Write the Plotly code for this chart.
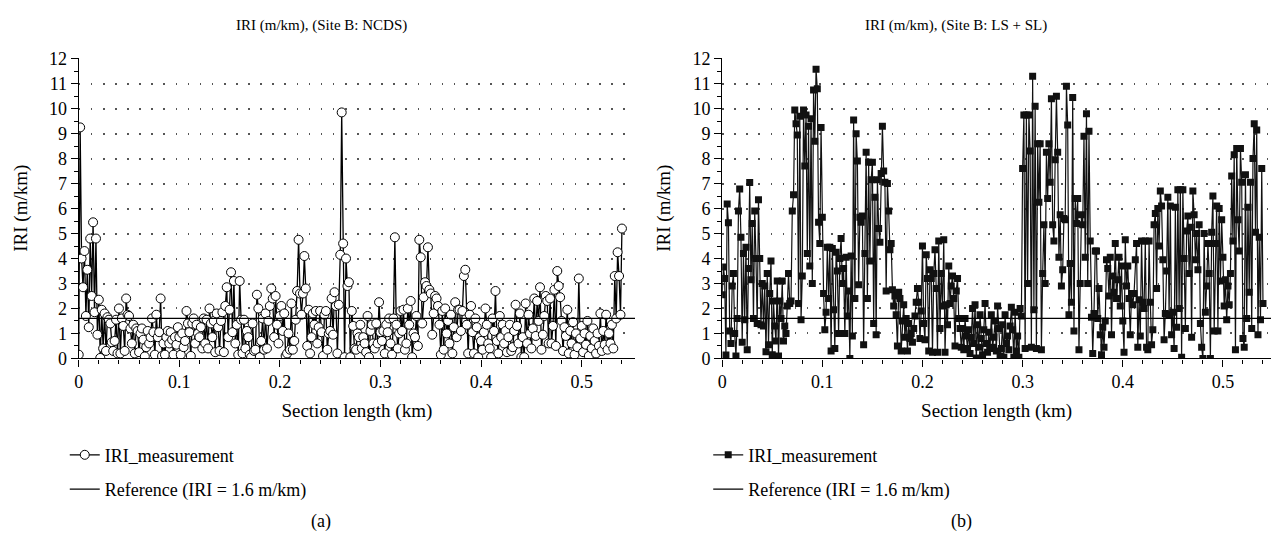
import numpy as np
import plotly.graph_objects as go

# ---------------- data ----------------
# Site B: NCDS  -- IRI (m/km), 7 readings per 10 m of section, from 0 to 0.54 km
LEFT_IRI = [
    0.15, 9.25, 4.0, 2.85, 4.3, 1.7, 3.55,
    1.25, 4.8, 2.5, 5.45, 1.85, 4.8, 0.95,
    2.35, 0.02, 1.95, 0.4, 1.8, 0.3, 1.65,
    1.55, 1.4, 0.65, 0.3, 0.7, 1.55, 0.2,
    2.0, 0.2, 1.6, 1.3, 0.3, 2.4, 1.75,
    1.7, 1.2, 0.6, 1.35, 0.2, 1.2, 1.1,
    0.25, 1.0, 1.2, 0.75, 0.08, 0.45, 1.1,
    0.6, 0.85, 1.6, 1.05, 0.15, 1.75, 0.85,
    1.05, 2.4, 0.1, 0.6, 0.15, 0.85, 1.1,
    0.6, 1.05, 0.75, 0.15, 0.85, 0.55, 1.25,
    0.85, 0.15, 1.0, 0.45, 0.7, 1.9, 1.4,
    1.05, 0.1, 1.4, 1.6, 0.6, 1.35, 1.0,
    0.85, 1.25, 0.4, 1.6, 0.6, 1.55, 0.4,
    2.0, 1.4, 0.85, 1.5, 0.25, 1.8, 1.25,
    0.3, 1.5, 1.85, 0.25, 2.1, 2.85, 0.85,
    1.95, 3.45, 1.05, 3.1, 0.6, 1.35, 0.15,
    3.1, 1.55, 0.2, 1.55, 0.4, 1.1, 0.85,
    0.15, 0.05, 1.4, 0.3, 0.35, 2.55, 2.0,
    0.05, 0.7, 1.6, 0.35, 1.8, 0.4, 1.5,
    2.1, 2.8, 2.4, 0.85, 2.5, 1.35, 0.6,
    1.7, 2.1, 1.1, 1.8, 0.1, 0.2, 1.0,
    0.35, 2.2, 0.35, 0.7, 1.55, 2.7, 4.75,
    2.6, 1.75, 2.6, 4.1, 2.8, 0.5, 1.95,
    0.2, 0.85, 1.8, 1.35, 1.9, 0.6, 1.25,
    1.9, 1.05, 0.1, 1.75, 1.9, 0.35, 1.0,
    1.1, 2.4, 0.95, 2.65, 2.1, 0.2, 2.15,
    4.15, 9.85, 4.6, 0.05, 4.0, 2.9, 3.05,
    0.05, 1.9, 1.3, 0.4, 0.35, 1.0, 0.85,
    1.35, 0.4, 0.85, 0.6, 0.25, 1.7, 0.05,
    1.1, 1.35, 0.6, 0.4, 1.4, 0.6, 2.25,
    1.05, 0.7, 1.1, 0.2, 1.35, 1.05, 1.6,
    0.6, 0.15, 1.6, 4.85, 1.35, 0.4, 1.0,
    1.9, 1.1, 1.95, 0.35, 0.6, 2.0, 1.35,
    2.3, 0.05, 1.0, 0.85, 1.7, 0.5, 4.75,
    4.05, 1.4, 2.45, 3.05, 2.9, 4.45, 2.75,
    2.6, 0.95, 1.8, 2.5, 2.4, 2.1, 1.35,
    0.15, 1.9, 0.35, 2.0, 1.0, 1.5, 0.6,
    1.75, 0.2, 1.25, 2.25, 0.85, 1.95, 1.95,
    1.1, 1.9, 3.3, 3.55, 1.35, 0.2, 1.75,
    2.1, 1.05, 0.2, 1.6, 1.25, 0.05, 0.85,
    0.7, 0.35, 1.05, 2.0, 1.35, 0.6, 0.4,
    0.05, 1.6, 1.1, 2.7, 0.7, 0.2, 1.7,
    0.85, 1.35, 0.6, 1.1, 0.25, 0.85, 1.35,
    0.3, 0.45, 1.1, 2.15, 1.3, 0.6, 1.8,
    0.05, 0.85, 0.05, 2.2, 0.6, 1.75, 1.0,
    0.4, 1.2, 2.4, 0.9, 2.3, 1.5, 2.85,
    0.35, 0.95, 1.7, 2.5, 2.3, 0.6, 2.4,
    0.6, 1.3, 2.75, 0.5, 3.5, 2.9, 2.45,
    1.5, 0.3, 1.25, 0.9, 1.95, 0.2, 1.1,
    0.6, 1.45, 0.15, 1.0, 0.45, 3.2, 0.8,
    1.3, 0.25, 1.0, 0.55, 1.5, 0.1, 0.9,
    0.4, 1.2, 0.7, 0.2, 1.0, 0.5, 1.8,
    0.3, 1.1, 0.55, 1.75, 0.35, 1.0, 0.6,
    1.35, 0.4, 3.3, 1.6, 4.25, 3.3, 1.75,
    5.2,
]

# Site B: LS + SL  -- IRI (m/km), 8 readings per 10 m of section, from 0 to 0.54 km
RIGHT_IRI = [
    2.55, 3.66, 3.2, 0.14, 6.18, 5.43, 1.1, 0.6,
    2.9, 3.4, 1.0, 0.1, 1.6, 5.9, 6.78, 4.85,
    0.65, 4.2, 1.55, 4.45, 0.35, 3.6, 7.04, 3.15,
    5.4, 1.6, 5.9, 4.0, 1.4, 6.35, 4.0, 1.35,
    3.0, 1.3, 2.9, 0.27, 3.4, 0.55, 2.6, 3.9,
    0.15, 2.3, 1.3, 0.7, 3.1, 0.1, 2.3, 1.6,
    3.1, 0.7, 1.3, 1.0, 2.1, 3.4, 2.2, 2.3,
    5.9, 6.55, 9.95, 9.4, 8.95, 2.2, 9.7, 1.55,
    3.3, 9.95, 7.7, 9.75, 4.2, 9.3, 3.7, 9.6,
    3.0, 10.75, 8.7, 11.58, 10.8, 5.45, 4.6, 9.25,
    5.65, 2.6, 1.15, 1.85, 4.45, 2.4, 4.45, 0.3,
    4.4, 1.95, 0.4, 4.25, 3.5, 1.0, 4.0, 4.8,
    3.0, 3.6, 1.0, 4.05, 1.7, 2.7, 0.0, 4.1,
    0.9, 9.55, 2.4, 9.0, 7.9, 2.95, 5.65, 5.45,
    5.7, 0.55, 4.2, 8.25, 2.4, 7.85, 3.9, 7.15,
    7.85, 1.4, 6.45, 0.95, 7.15, 5.2, 4.65, 7.4,
    9.3, 7.5, 7.05, 2.7, 7.0, 5.9, 4.35, 4.6,
    2.75, 2.1, 2.5, 1.75, 0.5, 2.65, 2.4, 0.3,
    1.5, 2.15, 0.85, 1.6, 0.3, 1.4, 0.8, 1.0,
    0.65, 1.2, 1.7, 2.25, 2.8, 2.25, 0.8, 1.9,
    4.5, 1.4, 0.75, 4.15, 3.2, 0.3, 3.55, 3.2,
    0.25, 3.4, 4.35, 2.8, 0.25, 4.7, 1.2, 3.4,
    2.1, 4.75, 0.25, 2.15, 1.35, 3.7, 2.2, 2.9,
    3.3, 2.4, 0.5, 2.7, 3.2, 1.6, 1.2, 0.45,
    1.2, 0.35, 1.6, 0.9, 0.4, 1.15, 0.2, 0.85,
    2.0, 0.6, 2.15, 0.02, 1.35, 0.45, 1.75, 0.8,
    0.15, 1.15, 2.2, 0.6, 0.25, 1.05, 0.4, 1.75,
    0.45, 0.85, 1.5, 0.3, 2.1, 1.2, 0.1, 0.4,
    1.35, 0.05, 1.75, 0.6, 0.9, 0.35, 1.3, 2.05,
    1.15, 0.05, 1.85, 0.3, 0.9, 0.05, 2.0, 1.7,
    7.6, 9.75, 0.4, 9.75, 3.0, 9.75, 8.3, 0.45,
    11.3, 1.95, 10.1, 0.4, 8.6, 6.25, 8.6, 0.35,
    3.4, 5.35, 3.0, 8.25, 6.4, 8.6, 7.05, 10.4,
    5.35, 4.7, 7.95, 10.5, 8.25, 4.05, 5.75, 2.9,
    3.55, 5.6, 5.55, 10.9, 9.35, 1.75, 3.8, 2.25,
    10.45, 1.1, 6.4, 5.4, 6.4, 0.35, 3.0, 5.75,
    5.35, 8.9, 4.05, 9.8, 3.0, 9.1, 4.7, 1.65,
    0.2, 1.8, 4.3, 4.3, 1.6, 2.8, 0.95, 0.15,
    1.25, 0.45, 1.5, 3.95, 3.6, 2.5, 4.05, 0.95,
    3.3, 2.65, 4.6, 2.4, 3.15, 4.05, 2.1, 3.7,
    1.5, 0.25, 4.75, 2.9, 3.7, 2.4, 0.95, 2.6,
    2.15, 2.6, 3.95, 4.6, 0.45, 2.35, 0.9, 4.7,
    2.25, 2.0, 4.7, 0.45, 0.35, 4.7, 2.25, 0.55,
    1.15, 5.35, 5.8, 2.8, 6.0, 4.5, 6.7, 6.1,
    3.95, 0.75, 1.8, 3.5, 6.45, 1.75, 6.1, 0.95,
    1.85, 0.4, 6.05, 1.25, 6.75, 2.0, 6.75, 0.05,
    6.75, 4.0, 1.2, 5.1, 5.7, 3.4, 5.25, 0.85,
    6.7, 5.75, 3.95, 5.0, 3.55, 5.35, 1.4, 0.45,
    0.0, 5.0, 1.85, 2.9, 4.6, 3.4, 0.0, 5.05,
    6.5, 1.1, 4.6, 6.1, 1.1, 6.0, 3.1, 5.55,
    4.05, 2.1, 3.15, 1.55, 2.9, 2.15, 3.4, 7.3,
    4.7, 8.15, 0.35, 8.4, 5.55, 4.3, 8.4, 7.05,
    0.8, 0.45, 7.35, 1.6, 6.05, 2.65, 7.05, 1.2,
    8.0, 9.4, 5.05, 9.15, 0.95, 4.85, 1.55, 7.6,
    2.2,
]

SECTION_END_KM = 0.54
REFERENCE_IRI = 1.6
X_TICKS = [0, 0.1, 0.2, 0.3, 0.4, 0.5]
Y_TICKS = list(range(0, 13))
TITLES = ["IRI (m/km), (Site B: NCDS)", "IRI (m/km), (Site B: LS + SL)"]
CAPTIONS = ["(a)", "(b)"]

left_x = np.linspace(0, SECTION_END_KM, len(LEFT_IRI))
right_x = np.linspace(0, SECTION_END_KM, len(RIGHT_IRI))

# ---------------- figure ----------------
W, H = 1271, 547
FONT = "Liberation Serif"
LEFT_RANGE = [0, 0.553]
RIGHT_RANGE = [0, 0.548]


def fx(px):
    return px / W


def fy(py):
    return 1 - py / H


fig = go.Figure()

fig.add_trace(go.Scatter(
    x=left_x, y=LEFT_IRI, mode="lines+markers", name="IRI_measurement",
    line=dict(color="black", width=1.3),
    marker=dict(symbol="circle", size=9, color="white", line=dict(color="black", width=1)),
    xaxis="x", yaxis="y", legend="legend", legendgroup="a1",
))
fig.add_trace(go.Scatter(
    x=LEFT_RANGE, y=[REFERENCE_IRI, REFERENCE_IRI], mode="lines",
    name="Reference (IRI = 1.6 m/km)", line=dict(color="black", width=1.2),
    xaxis="x", yaxis="y", legend="legend", legendgroup="a2",
))
fig.add_trace(go.Scatter(
    x=right_x, y=RIGHT_IRI, mode="lines+markers", name="IRI_measurement",
    line=dict(color="#111111", width=1.2),
    marker=dict(symbol="square", size=7, color="#111111", line=dict(width=0)),
    xaxis="x2", yaxis="y2", legend="legend2", legendgroup="b1",
))
fig.add_trace(go.Scatter(
    x=RIGHT_RANGE, y=[REFERENCE_IRI, REFERENCE_IRI], mode="lines",
    name="Reference (IRI = 1.6 m/km)", line=dict(color="black", width=1.2),
    xaxis="x2", yaxis="y2", legend="legend2", legendgroup="b2",
))

Y_TOP = 12.03
y_dom = [fy(362), fy(362 - 310.5 * Y_TOP / 12)]
common_x = dict(
    showline=True, linecolor="black", linewidth=1.2, zeroline=False,
    ticks="outside", ticklen=7, tickwidth=1.1, tickcolor="black",
    tickvals=X_TICKS, showgrid=False,
    minor=dict(ticks="outside", ticklen=4, tickwidth=1, tickcolor="black", dtick=0.02, tick0=0, showgrid=False),
    tickfont=dict(family=FONT, size=18, color="black"),
    title=dict(text="Section length (km)", font=dict(family=FONT, size=19, color="black"), standoff=12),
)
common_y = dict(
    range=[0, Y_TOP], showline=True, linecolor="black", linewidth=1.2, zeroline=False,
    ticks="outside", ticklen=7, tickwidth=1.1, tickcolor="black",
    tickvals=Y_TICKS,
    showgrid=True, gridcolor="#555555", gridwidth=1.6, griddash="1.6px,10.5px",
    minor=dict(ticks="outside", ticklen=4, tickwidth=1, tickcolor="black", dtick=0.5, tick0=0, showgrid=False),
    tickfont=dict(family=FONT, size=18, color="black"),
    title=dict(text="IRI (m/km)", font=dict(family=FONT, size=19, color="black"), standoff=16),
    domain=y_dom,
)

xa1 = dict(common_x); xa1.update(domain=[fx(74), fx(632.5)], range=LEFT_RANGE, anchor="y")
xa2 = dict(common_x); xa2.update(domain=[fx(720), 1.0], range=RIGHT_RANGE, anchor="y2")
ya1 = dict(common_y); ya1.update(anchor="x")
ya2 = dict(common_y); ya2.update(anchor="x2")

legend_common = dict(
    orientation="v", xanchor="left", yanchor="top",
    font=dict(family=FONT, size=18, color="black"),
    bgcolor="rgba(0,0,0,0)", tracegroupgap=8, itemwidth=30,
)
lg1 = dict(legend_common); lg1.update(x=fx(60), y=fy(443))
lg2 = dict(legend_common); lg2.update(x=fx(706), y=fy(443))

annotations = [
    dict(text=TITLES[0], x=fx(318), y=fy(17), xref="paper", yref="paper", showarrow=False,
         xanchor="center", yanchor="middle", font=dict(family=FONT, size=15, color="black")),
    dict(text=TITLES[1], x=fx(955), y=fy(17), xref="paper", yref="paper", showarrow=False,
         xanchor="center", yanchor="middle", font=dict(family=FONT, size=15, color="black")),
    dict(text=CAPTIONS[0], x=fx(317), y=fy(531), xref="paper", yref="paper", showarrow=False,
         xanchor="center", yanchor="middle", font=dict(family=FONT, size=18, color="black")),
    dict(text=CAPTIONS[1], x=fx(960), y=fy(531), xref="paper", yref="paper", showarrow=False,
         xanchor="center", yanchor="middle", font=dict(family=FONT, size=18, color="black")),
]

fig.update_layout(
    width=W, height=H, margin=dict(l=0, r=0, t=0, b=0),
    paper_bgcolor="white", plot_bgcolor="white",
    xaxis=xa1, yaxis=ya1, xaxis2=xa2, yaxis2=ya2,
    legend=lg1, legend2=lg2, showlegend=True,
    annotations=annotations,
    font=dict(family=FONT, color="black"),
)

fig.write_html(
    "out.html",
    config={"displayModeBar": False},
    post_script="document.body.style.margin='0';document.body.style.overflow='hidden';",
)
